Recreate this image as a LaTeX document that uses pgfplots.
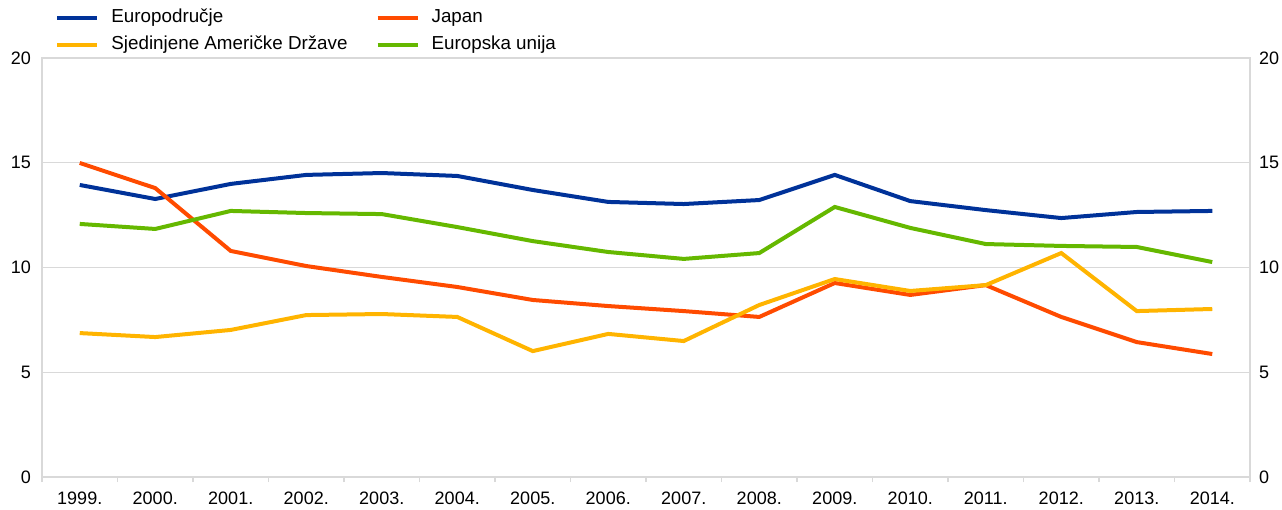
\documentclass[border=0pt]{standalone}
\usepackage{fontspec}
\setmainfont{Liberation Sans}
\usepackage{pgfplots}
\pgfplotsset{compat=1.18}
\definecolor{cblue}{HTML}{003299}
\definecolor{cred}{HTML}{FF4B00}
\definecolor{cyel}{HTML}{FFB400}
\definecolor{cgreen}{HTML}{65B800}
\definecolor{gridgray}{HTML}{D9D9D9}
\begin{document}
\begin{tikzpicture}
\pgfplotsset{
  base/.style={
    scale only axis, width=604pt, height=209.5pt,
    xmin=-0.5, xmax=15.5, ymin=0, ymax=20,
    ytick={0,5,10,15,20},
    axis line style={draw=gridgray, line width=0.6pt},
    major tick length=0pt, minor tick length=2.5pt,
    tick align=outside,
    tick label style={font=\fontsize{9}{11}\selectfont},
    /pgf/number format/assume math mode=true,
  }
}
\begin{axis}[base, name=ax,
  ymajorgrids, grid style={draw=gridgray, line width=0.6pt},
  ytick pos=left,
  yticklabel style={xshift=-2pt},
  xtick={0,...,15},
  xticklabels={1999.,2000.,2001.,2002.,2003.,2004.,2005.,2006.,2007.,2008.,2009.,2010.,2011.,2012.,2013.,2014.},
  xtick pos=bottom,
  minor xtick={-0.5,0.5,...,15.5},
  minor x tick style={draw=gridgray, line width=0.6pt},
  xticklabel style={yshift=-3.75pt},
  legend columns=2,
  legend cell align=left,
  legend image code/.code={\draw[#1, line width=2pt] (0pt,0pt) -- (20pt,0pt);},
  legend style={at={(0.0108,1)}, anchor=south west, yshift=1.2pt,
    draw=none, fill=none, inner sep=0pt, row sep=3.2pt,
    font=\fontsize{9.4}{11}\selectfont,
    nodes={inner sep=1pt, text height=6.6pt, text depth=1.8pt},
    /tikz/every odd column/.append style={column sep=5pt},
    /tikz/every even column/.append style={column sep=13pt}},
]
\addplot[cblue, line width=2pt] coordinates {
(0,13.94) (1,13.27) (2,13.99) (3,14.42) (4,14.51) (5,14.37) (6,13.70) (7,13.13)
(8,13.03) (9,13.22) (10,14.42) (11,13.17) (12,12.74) (13,12.36) (14,12.65) (15,12.70)};
\addlegendentry{Europodručje}
\addplot[cred, line width=2pt] coordinates {
(0,14.99) (1,13.79) (2,10.79) (3,10.07) (4,9.55) (5,9.07) (6,8.45) (7,8.16)
(8,7.92) (9,7.64) (10,9.26) (11,8.69) (12,9.16) (13,7.64) (14,6.44) (15,5.87)};
\addlegendentry{Japan}
\addplot[cyel, line width=2pt] coordinates {
(0,6.87) (1,6.68) (2,7.02) (3,7.73) (4,7.78) (5,7.64) (6,6.01) (7,6.83)
(8,6.49) (9,8.21) (10,9.45) (11,8.88) (12,9.16) (13,10.69) (14,7.92) (15,8.02)};
\addlegendentry{Sjedinjene Američke Države}
\addplot[cgreen, line width=2pt] coordinates {
(0,12.08) (1,11.84) (2,12.70) (3,12.60) (4,12.55) (5,11.93) (6,11.26) (7,10.74)
(8,10.41) (9,10.69) (10,12.89) (11,11.89) (12,11.12) (13,11.03) (14,10.98) (15,10.26)};
\addlegendentry{Europska unija}
\end{axis}
\begin{axis}[base,
  axis x line=none,
  axis y line*=right,
  yticklabel style={xshift=1pt},
]
\end{axis}
\pgfresetboundingbox
\useasboundingbox ([shift={(-21pt,-16pt)}]ax.south west) rectangle ([shift={(16pt,29pt)}]ax.north east);
\end{tikzpicture}
\end{document}
